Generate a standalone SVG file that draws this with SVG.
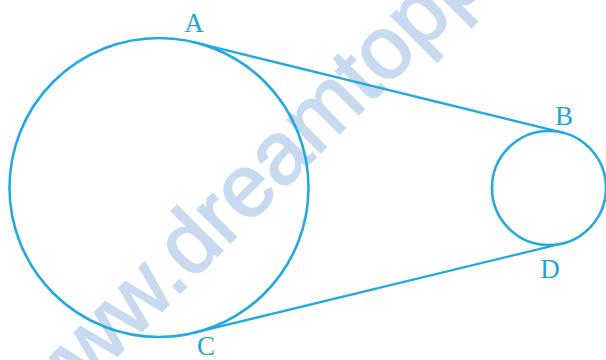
<svg xmlns="http://www.w3.org/2000/svg" width="606" height="360" viewBox="0 0 606 360">
  <style>
    .shape { fill: none; stroke: #23a8e2; stroke-width: 2.6; }
    .conn { fill: none; stroke: #23a8e2; stroke-width: 2.4; stroke-linecap: round; }
    .lbl { font-family: "Liberation Serif", "Times New Roman", serif; font-size: 27px; fill: #22a3df; text-anchor: middle; }
    .wm { font-family: "Liberation Sans", Arial, sans-serif; font-size: 88px; fill: #c8daf0; stroke: #c8daf0; stroke-width: 2; }
  </style>
  <rect width="606" height="360" fill="#ffffff"/>
  <g id="watermark">
    <text class="wm" transform="translate(43 430) rotate(-45)">www.dreamtopp</text>
  </g>
  <g id="connectors">
    <line class="conn" x1="194.5" y1="42.3" x2="562.5" y2="132.6"/>
    <line class="conn" x1="194.5" y1="332.7" x2="562.5" y2="243.4"/>
  </g>
  <g id="big-circle">
    <circle class="shape" cx="159" cy="187.5" r="149.5"/>
  </g>
  <g id="small-circle">
    <circle class="shape" cx="549" cy="188" r="57"/>
  </g>
  <g id="label-A"><text class="lbl" x="194" y="32">A</text></g>
  <g id="label-B"><text class="lbl" x="564" y="125">B</text></g>
  <g id="label-C"><text class="lbl" x="206" y="355">C</text></g>
  <g id="label-D"><text class="lbl" x="550" y="278">D</text></g>
</svg>
